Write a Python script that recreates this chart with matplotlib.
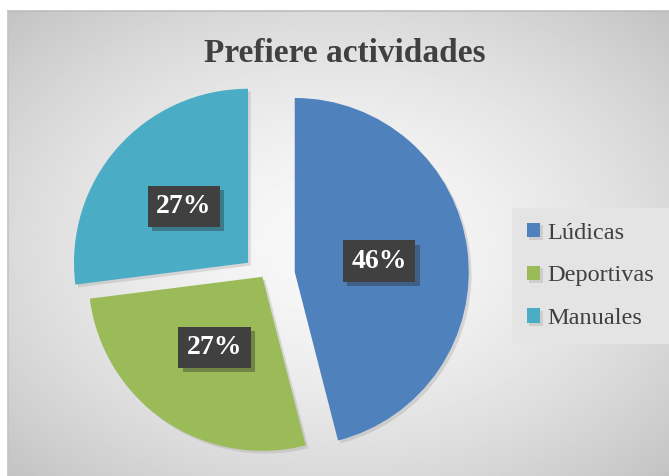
import matplotlib.pyplot as plt
import matplotlib.patheffects as pe
import numpy as np

# Datos del grafico
categorias = ["Lúdicas", "Deportivas", "Manuales"]
porcentajes = [46, 27, 27]
colores = ["#4F81BD", "#9BBB59", "#4BACC6"]
separacion = [32, 1, 20]
titulo = "Prefiere actividades"

W, H = 669, 476
fig = plt.figure(figsize=(W / 100, H / 100), dpi=100)
ax = fig.add_axes([0, 0, 1, 1])

# Fondo gris con degradado radial
yy, xx = np.mgrid[0:1:300j, 0:1:300j]
r = np.sqrt(((xx - 0.5) / 0.62) ** 2 + ((yy - 0.5) / 0.62) ** 2)
fondo = np.clip(0.975 - 0.17 * r ** 1.6, 0, 1)
ax.imshow(fondo, cmap="gray", vmin=0, vmax=1, extent=(8, W, 0, H - 11),
          origin="upper", zorder=0, interpolation="bilinear")
ax.plot([8, W], [H - 11, H - 11], color="#bdbdbd", lw=1.2, zorder=0.5)
ax.plot([8, 8], [0, H - 11], color="#c4c4c4", lw=1.2, zorder=0.5)

wedges, textos, autotextos = ax.pie(
    porcentajes,
    colors=colores,
    startangle=90,
    counterclock=False,
    center=(263, 200),
    radius=174,
    explode=separacion,
    autopct="%1.0f%%",
    pctdistance=0.49,
    wedgeprops=dict(linewidth=0),
    frame=True,
)
for w in wedges:
    w.set_path_effects([pe.SimplePatchShadow(offset=(2, -2), shadow_rgbFace="#999999", alpha=0.3), pe.Normal()])

for t in autotextos:
    t.set_color("white")
    t.set_fontfamily("Liberation Serif")
    t.set_fontweight("bold")
    t.set_fontsize(20)
    t.set_bbox(dict(boxstyle="square,pad=0.3", facecolor="#404040", edgecolor="none"))
    t.get_bbox_patch().set_path_effects(
        [pe.SimplePatchShadow(offset=(3, -3), shadow_rgbFace="#222222", alpha=0.35), pe.Normal()])

ax.text(345, 423, titulo, ha="center", va="center", fontsize=24,
        fontweight="bold", family="Liberation Serif", color="#404040")

leg = ax.legend(
    wedges, categorias,
    loc="center left",
    bbox_to_anchor=(512 / W, 200 / H),
    prop={"family": "Liberation Serif", "size": 17.5},
    frameon=True, fancybox=False,
    handlelength=0.55, handleheight=0.55, handletextpad=0.3,
    labelspacing=0.9, borderpad=0.6, borderaxespad=0,
)
leg.get_frame().set_facecolor("#e4e4e4")
leg.get_frame().set_edgecolor("none")
leg.get_frame().set_alpha(1)
for t in leg.get_texts():
    t.set_color("#404040")

ax.set_xlim(0, W)
ax.set_ylim(0, H)
ax.set_aspect("equal")
ax.axis("off")
fig.patch.set_facecolor("white")

plt.savefig("out.png", dpi=100)
